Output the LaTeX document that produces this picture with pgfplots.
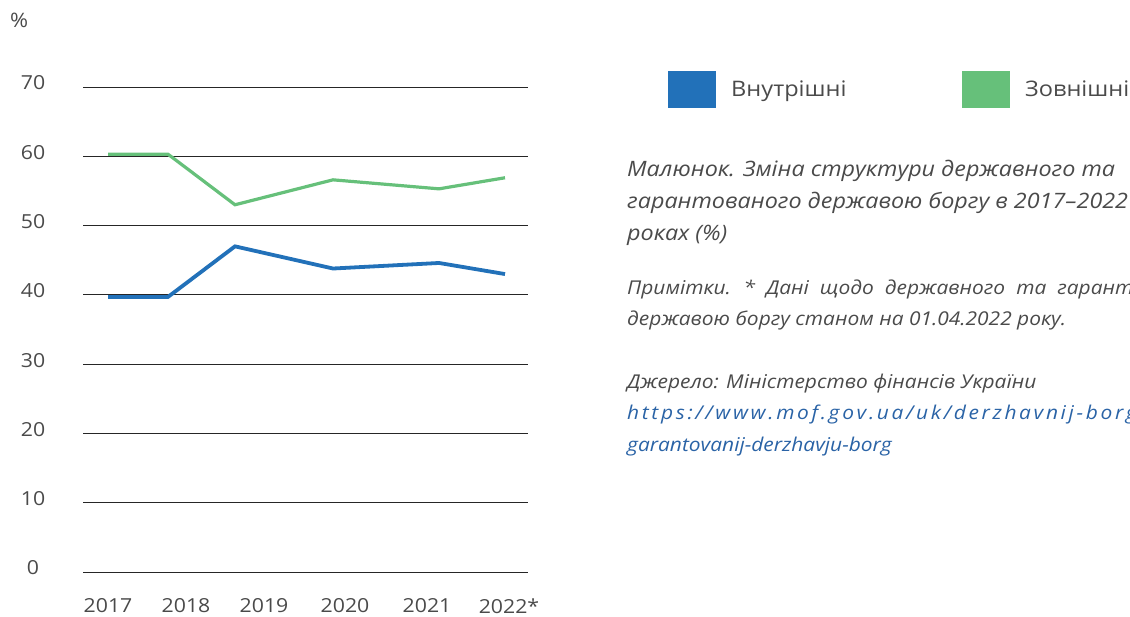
\documentclass[border=0pt]{standalone}
\usepackage{fontspec}
\setmainfont[FakeStretch=1.1]{Open Sans}
\newfontfamily\spaced[LetterSpace=14,FakeStretch=1.1]{Open Sans}
\usepackage{pgfplots}
\pgfplotsset{compat=1.18}
\definecolor{vnut}{HTML}{2271B9}
\definecolor{zovn}{HTML}{66C07A}
\definecolor{txt}{HTML}{4A4A4A}
\definecolor{link}{HTML}{2A63A6}
\begin{document}
\begin{tikzpicture}[x=1bp,y=1bp]
\useasboundingbox (0,0) rectangle (1130,617);
\clip (0,0) rectangle (1130,617);
\begin{axis}[at={(83bp,45bp)}, anchor=south west, scale only axis,
  width=445bp, height=485bp, xmin=83, xmax=528, ymin=0, ymax=70,
  ytick={0,10,...,70},
  xtick={108,186,264,345,427,509},
  xticklabels={2017,2018,2019,2020,2021,2022*},
  axis line style={draw=none}, tick style={draw=none},
  ymajorgrids, grid style={black!85, line width=0.8bp},
  tick label style={font=\fontsize{19.4}{23}\selectfont, text=txt},
  yticklabel style={anchor=center, xshift=-50bp, yshift=4bp},
  xticklabel style={anchor=center, yshift=-34bp},
  /pgf/number format/assume math mode=true,
  clip=false]
\addplot[vnut, line width=3.8bp] coordinates {(108,39.7)(168,39.7)(235,47.0)(333,43.8)(439,44.6)(505,43.0)};
\addplot[zovn, line width=3.2bp] coordinates {(108,60.3)(168,60.3)(235,53.0)(333,56.6)(439,55.3)(505,56.9)};
\end{axis}
\node[anchor=base west, inner sep=0, text=txt, font=\fontsize{20}{24}\selectfont] at (10,589) {\%};
% legend
\fill[vnut] (668,509) rectangle (716,546);
\node[anchor=base west, inner sep=0, text=txt, font=\fontsize{21.5}{25}\selectfont] at (731,520) {Внутрішні};
\fill[zovn] (962,509) rectangle (1010,546);
\node[anchor=base west, inner sep=0, text=txt, font=\fontsize{21.5}{25}\selectfont] at (1025,520) {Зовнішні};
% caption
\begin{scope}[every node/.style={anchor=base west, inner sep=0, text=txt}]
\node[font=\fontsize{21.3}{25}\selectfont\itshape] at (627,440) {Малюнок. Зміна структури державного та};
\node[font=\fontsize{21.3}{25}\selectfont\itshape] at (627,408) {гарантованого державою боргу в 2017–2022};
\node[font=\fontsize{21.3}{25}\selectfont\itshape] at (627,376) {роках (\%)};
\node[font=\fontsize{19.1}{23}\selectfont\itshape] at (627,322) {\spaceskip=11bp Примітки. * Дані щодо державного та гарантованого};
\node[font=\fontsize{19.1}{23}\selectfont\itshape] at (627,291) {державою боргу станом на 01.04.2022 року.};
\node[font=\fontsize{19.1}{23}\selectfont\itshape] at (627,228) {Джерело: Міністерство фінансів України};
\node[font=\fontsize{19.1}{23}\selectfont\spaced\itshape, text=link] at (627,197) {https://www.mof.gov.ua/uk/derzhavnij-borg-ta-};
\node[font=\fontsize{19.1}{23}\selectfont\itshape, text=link] at (627,165) {garantovanij-derzhavju-borg};
\end{scope}
\end{tikzpicture}
\end{document}
